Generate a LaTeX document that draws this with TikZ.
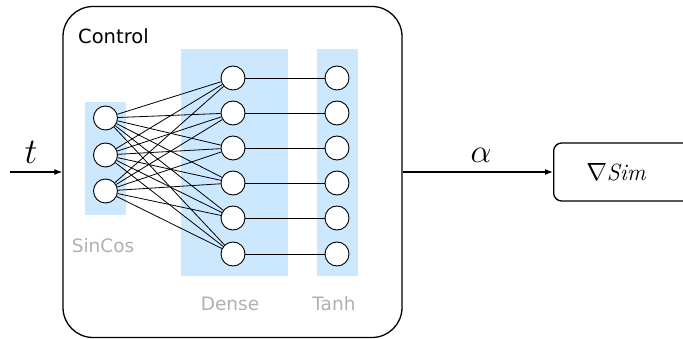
\documentclass[tikz,border=0pt]{standalone}
\usepackage{fontspec}
\setsansfont{DejaVu Sans}
\usetikzlibrary{arrows.meta}
\definecolor{layerblue}{RGB}{204,232,255}
\definecolor{labgray}{RGB}{176,176,176}
\tikzset{
  neuron/.style={circle,draw=black,fill=white,line width=0.9pt,minimum size=24pt,inner sep=0pt},
  layerbg/.style={fill=layerblue,draw=none},
  conn/.style={draw=black,line width=0.8pt},
  graylab/.style={text=labgray,font=\sffamily\fontsize{18.5}{22}\selectfont,inner sep=0pt},
  flow/.style={draw=black,line width=1.2pt,-{Latex[length=8pt,width=6pt]}},
  biglab/.style={font=\Huge,inner sep=0pt},
}
\begin{document}
\begin{tikzpicture}[x=1pt,y=-1pt]
\useasboundingbox (0,0) rectangle (683,339);
\clip (0,0) rectangle (683,339);
% control box
\node[draw=black,line width=1.3pt,rounded corners=30pt,minimum width=339pt,minimum height=331pt,inner sep=0pt] (ctrl) at (232.5,172) {};
\node[anchor=west,inner sep=0pt,font=\sffamily\fontsize{19.5}{23}\selectfont] (ctrllab) at (78,36) {Control};
% layer backgrounds
\path[layerbg] (85,102) rectangle (126,215);
\path[layerbg] (181,49) rectangle (288,276);
\path[layerbg] (317,49) rectangle (358,276);
% neurons
\foreach \i/\y in {1/118,2/155,3/191}{
  \node[neuron] (s\i) at (105.5,\y) {};
}
\foreach \i/\y in {1/78,2/113,3/148,4/183,5/218,6/254}{
  \node[neuron] (d\i) at (233,\y) {};
  \node[neuron] (h\i) at (337,\y) {};
}
\foreach \i in {1,2,3}{
  \foreach \j in {1,...,6}{
    \draw[conn] (s\i) -- (d\j);
  }
}
\foreach \j in {1,...,6}{
  \draw[conn] (d\j) -- (h\j);
}
% labels
\node[graylab] (lsin) at (103,246) {SinCos};
\node[graylab] (lden) at (230,304) {Dense};
\node[graylab] (ltanh) at (334,304) {Tanh};
% input
\coordinate (tin) at (10,172);
\draw[flow] (tin) -- (ctrl.west |- tin);
\node[biglab,scale=1.45] (tlab) at (31,152) {$t$};
% output box
\node[draw=black,line width=1.3pt,rounded corners=8pt,minimum width=160pt,minimum height=58pt,inner sep=0pt,anchor=west] (sim) at (553,172) {};
\node[font=\fontsize{23.5}{28}\selectfont] (simlab) at (616,172) {$\nabla\mathit{Sim}$};
\draw[flow] (ctrl.east |- sim.west) -- (sim.west);
\node[biglab,scale=1.33] (alab) at (481,155.5) {$\alpha$};
\end{tikzpicture}
\end{document}
